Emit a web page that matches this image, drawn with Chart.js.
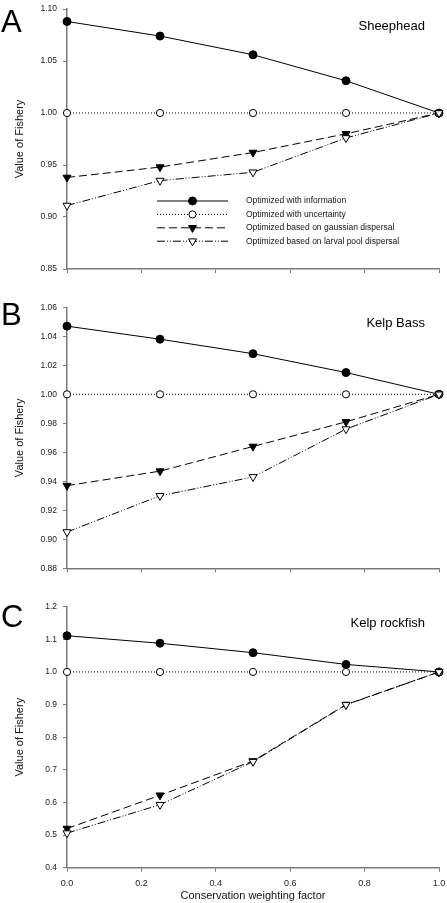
<!DOCTYPE html>
<html>
<head>
<meta charset="utf-8">
<script src="https://cdn.jsdelivr.net/npm/chart.js@4.4.0/dist/chart.umd.min.js"></script>
<style>
    html, body { margin: 0; padding: 0; background: #fff; }
    #page { position: relative; width: 447px; height: 903px; font-family: 'Liberation Sans', Arial, sans-serif; }
    .panel { position: absolute; left: 0; width: 447px; }
    .letter { position: absolute; left: 1px; font-size: 31px; line-height: 31px; color: #000; }
    .species { position: absolute; right: 22px; font-size: 13px; line-height: 13px; color: #000; }
</style>
</head>
<body>
<div id="page">
    <div class="panel" style="top:0;height:290px"><canvas id="chartA" width="447" height="290"></canvas></div>
    <div class="panel" style="top:290px;height:300px"><canvas id="chartB" width="447" height="300"></canvas></div>
    <div class="panel" style="top:590px;height:313px"><canvas id="chartC" width="447" height="313"></canvas></div>

    <div class="letter" style="top:6px">A</div>
    <div class="letter" style="top:299px">B</div>
    <div class="letter" style="top:601px">C</div>

    <div class="species" style="top:19px">Sheephead</div>
    <div class="species" style="top:316px">Kelp Bass</div>
    <div class="species" style="top:616px">Kelp rockfish</div>
</div>

<script>
// conservation weighting factor (x values)
const weights = [0, 0.25, 0.5, 0.75, 1.0];
const xTickValues = [0, 0.2, 0.4, 0.6, 0.8, 1.0];

const seriesNames = [
    'Optimized with information',
    'Optimized with uncertainty',
    'Optimized based on gaussian dispersal',
    'Optimized based on larval pool dispersal'
];

// Sheephead
const sheepInfo   = [1.088, 1.074, 1.056, 1.031, 1.000];
const sheepUncert = [1.000, 1.000, 1.000, 1.000, 1.000];
const sheepGauss  = [0.938, 0.948, 0.962, 0.980, 1.000];
const sheepLarval = [0.911, 0.935, 0.943, 0.976, 1.000];
const sheepYTicks = [0.85, 0.90, 0.95, 1.00, 1.05, 1.10];

// Kelp Bass
const bassInfo   = [1.047, 1.038, 1.028, 1.015, 1.000];
const bassUncert = [1.000, 1.000, 1.000, 1.000, 1.000];
const bassGauss  = [0.937, 0.947, 0.964, 0.981, 1.000];
const bassLarval = [0.905, 0.930, 0.943, 0.976, 1.000];
const bassYTicks = [0.88, 0.90, 0.92, 0.94, 0.96, 0.98, 1.00, 1.02, 1.04, 1.06];

// Kelp rockfish
const rockInfo   = [1.111, 1.088, 1.059, 1.023, 1.000];
const rockUncert = [1.000, 1.000, 1.000, 1.000, 1.000];
const rockGauss  = [0.520, 0.622, 0.727, 0.900, 1.000];
const rockLarval = [0.506, 0.593, 0.725, 0.899, 1.000];
const rockYTicks = [0.4, 0.5, 0.6, 0.7, 0.8, 0.9, 1.0, 1.1, 1.2];

const FONT = "'Liberation Sans', Arial, sans-serif";
const AXIS_GREY = '#7a7a7a';

// line / marker look of each series
const seriesStyles = [
    { dash: [], marker: 'circle', fill: '#000', radius: 4 },
    { dash: [1, 2], marker: 'circle', fill: '#fff', radius: 3.6 },
    { dash: [8, 4], marker: 'down', fill: '#000', radius: 4.6 },
    { dash: [8, 2, 1, 2, 1, 2], marker: 'down', fill: '#fff', radius: 4.6 }
];

function makeDatasets(lists) {
    return lists.map(function (vals, i) {
        const st = seriesStyles[i];
        return {
            label: seriesNames[i],
            data: vals.map(function (v, j) { return { x: weights[j], y: v }; }),
            borderColor: '#000',
            borderWidth: 1,
            borderDash: st.dash,
            pointStyle: st.marker === 'down' ? 'triangle' : 'circle',
            pointRotation: st.marker === 'down' ? 180 : 0,
            pointRadius: st.radius,
            pointBackgroundColor: st.fill,
            pointBorderColor: '#000',
            pointBorderWidth: 1,
            tension: 0,
            clip: false,
            // later series sit on top, like the original
            order: lists.length - 1 - i
        };
    });
}

function drawMarker(ctx, st, x, y) {
    ctx.beginPath();
    if (st.marker === 'circle') {
        ctx.arc(x, y, st.radius, 0, Math.PI * 2);
    } else {
        const r = st.radius;
        ctx.moveTo(x, y + r);
        ctx.lineTo(x - r * 0.866, y - r * 0.5);
        ctx.lineTo(x + r * 0.866, y - r * 0.5);
        ctx.closePath();
    }
    ctx.fillStyle = st.fill;
    ctx.fill();
    ctx.strokeStyle = '#000';
    ctx.lineWidth = 1;
    ctx.stroke();
}

// legend drawn inside panel A
const insideLegend = {
    id: 'insideLegend',
    afterDatasetsDraw(chart, args, opts) {
        if (!opts.show) return;
        const ctx = chart.ctx;
        seriesNames.forEach(function (name, i) {
            const st = seriesStyles[i];
            const y = opts.top + i * opts.gap;
            ctx.save();
            ctx.strokeStyle = '#000';
            ctx.lineWidth = 1;
            ctx.setLineDash(st.dash);
            ctx.beginPath();
            ctx.moveTo(opts.x0, y);
            ctx.lineTo(opts.x1, y);
            ctx.stroke();
            ctx.setLineDash([]);
            drawMarker(ctx, st, (opts.x0 + opts.x1) / 2, y);
            ctx.fillStyle = '#111';
            ctx.font = '8.5px ' + FONT;
            ctx.textBaseline = 'middle';
            ctx.textAlign = 'left';
            ctx.fillText(name, opts.textX, y);
            ctx.restore();
        });
    }
};

function makeChart(id, lists, yTicks, ymin, ymax, decimals, box, showXLabels, legend) {
    const ctx = document.getElementById(id).getContext('2d');
    return new Chart(ctx, {
        type: 'line',
        data: { datasets: makeDatasets(lists) },
        plugins: [insideLegend],
        options: {
            responsive: false,
            animation: false,
            devicePixelRatio: 1,
            layout: { padding: { top: box.top, right: 8, left: 0, bottom: 0 } },
            plugins: {
                legend: { display: false },
                tooltip: { enabled: false },
                insideLegend: legend
            },
            scales: {
                x: {
                    type: 'linear',
                    min: 0,
                    max: 1,
                    afterBuildTicks: function (s) { s.ticks = xTickValues.map(function (v) { return { value: v }; }); },
                    afterFit: function (s) {
                        s.height = box.xh;
                        s.paddingLeft = 0;
                        s.paddingRight = 0;
                    },
                    ticks: {
                        display: showXLabels,
                        padding: 6,
                        color: '#222',
                        font: { family: FONT, size: 9 },
                        callback: function (v) { return Number(v).toFixed(1); }
                    },
                    grid: { drawOnChartArea: false, drawTicks: true, tickLength: 4, color: AXIS_GREY, lineWidth: 1 },
                    border: { color: AXIS_GREY, width: 1.5 },
                    title: {
                        display: showXLabels,
                        text: 'Conservation weighting factor',
                        color: '#111',
                        font: { family: FONT, size: 11 },
                        padding: { top: 0, bottom: 0 }
                    }
                },
                y: {
                    type: 'linear',
                    min: ymin,
                    max: ymax,
                    afterBuildTicks: function (s) { s.ticks = yTicks.map(function (v) { return { value: v }; }); },
                    afterFit: function (s) {
                        s.width = 67;
                        s.paddingTop = 0;
                        s.paddingBottom = 0;
                    },
                    ticks: {
                        padding: 6,
                        color: '#222',
                        font: { family: FONT, size: 8.5 },
                        callback: function (v) { return Number(v).toFixed(decimals); }
                    },
                    grid: { drawOnChartArea: false, drawTicks: true, tickLength: 4, color: AXIS_GREY, lineWidth: 1 },
                    border: { color: AXIS_GREY, width: 1.5 },
                    title: {
                        display: true,
                        text: 'Value of Fishery',
                        color: '#111',
                        font: { family: FONT, size: 11 },
                        padding: { top: 13, bottom: 0 }
                    }
                }
            }
        }
    });
}

makeChart('chartA', [sheepInfo, sheepUncert, sheepGauss, sheepLarval], sheepYTicks, 0.85, 1.10, 2,
    { top: 9, xh: 21 }, false, { show: true, top: 201, gap: 13.4, x0: 157, x1: 228, textX: 246 });
makeChart('chartB', [bassInfo, bassUncert, bassGauss, bassLarval], bassYTicks, 0.88, 1.06, 2,
    { top: 17.3, xh: 21.7 }, false, { show: false });
makeChart('chartC', [rockInfo, rockUncert, rockGauss, rockLarval], rockYTicks, 0.4, 1.2, 1,
    { top: 16.7, xh: 35.3 }, true, { show: false });
</script>
</body>
</html>
